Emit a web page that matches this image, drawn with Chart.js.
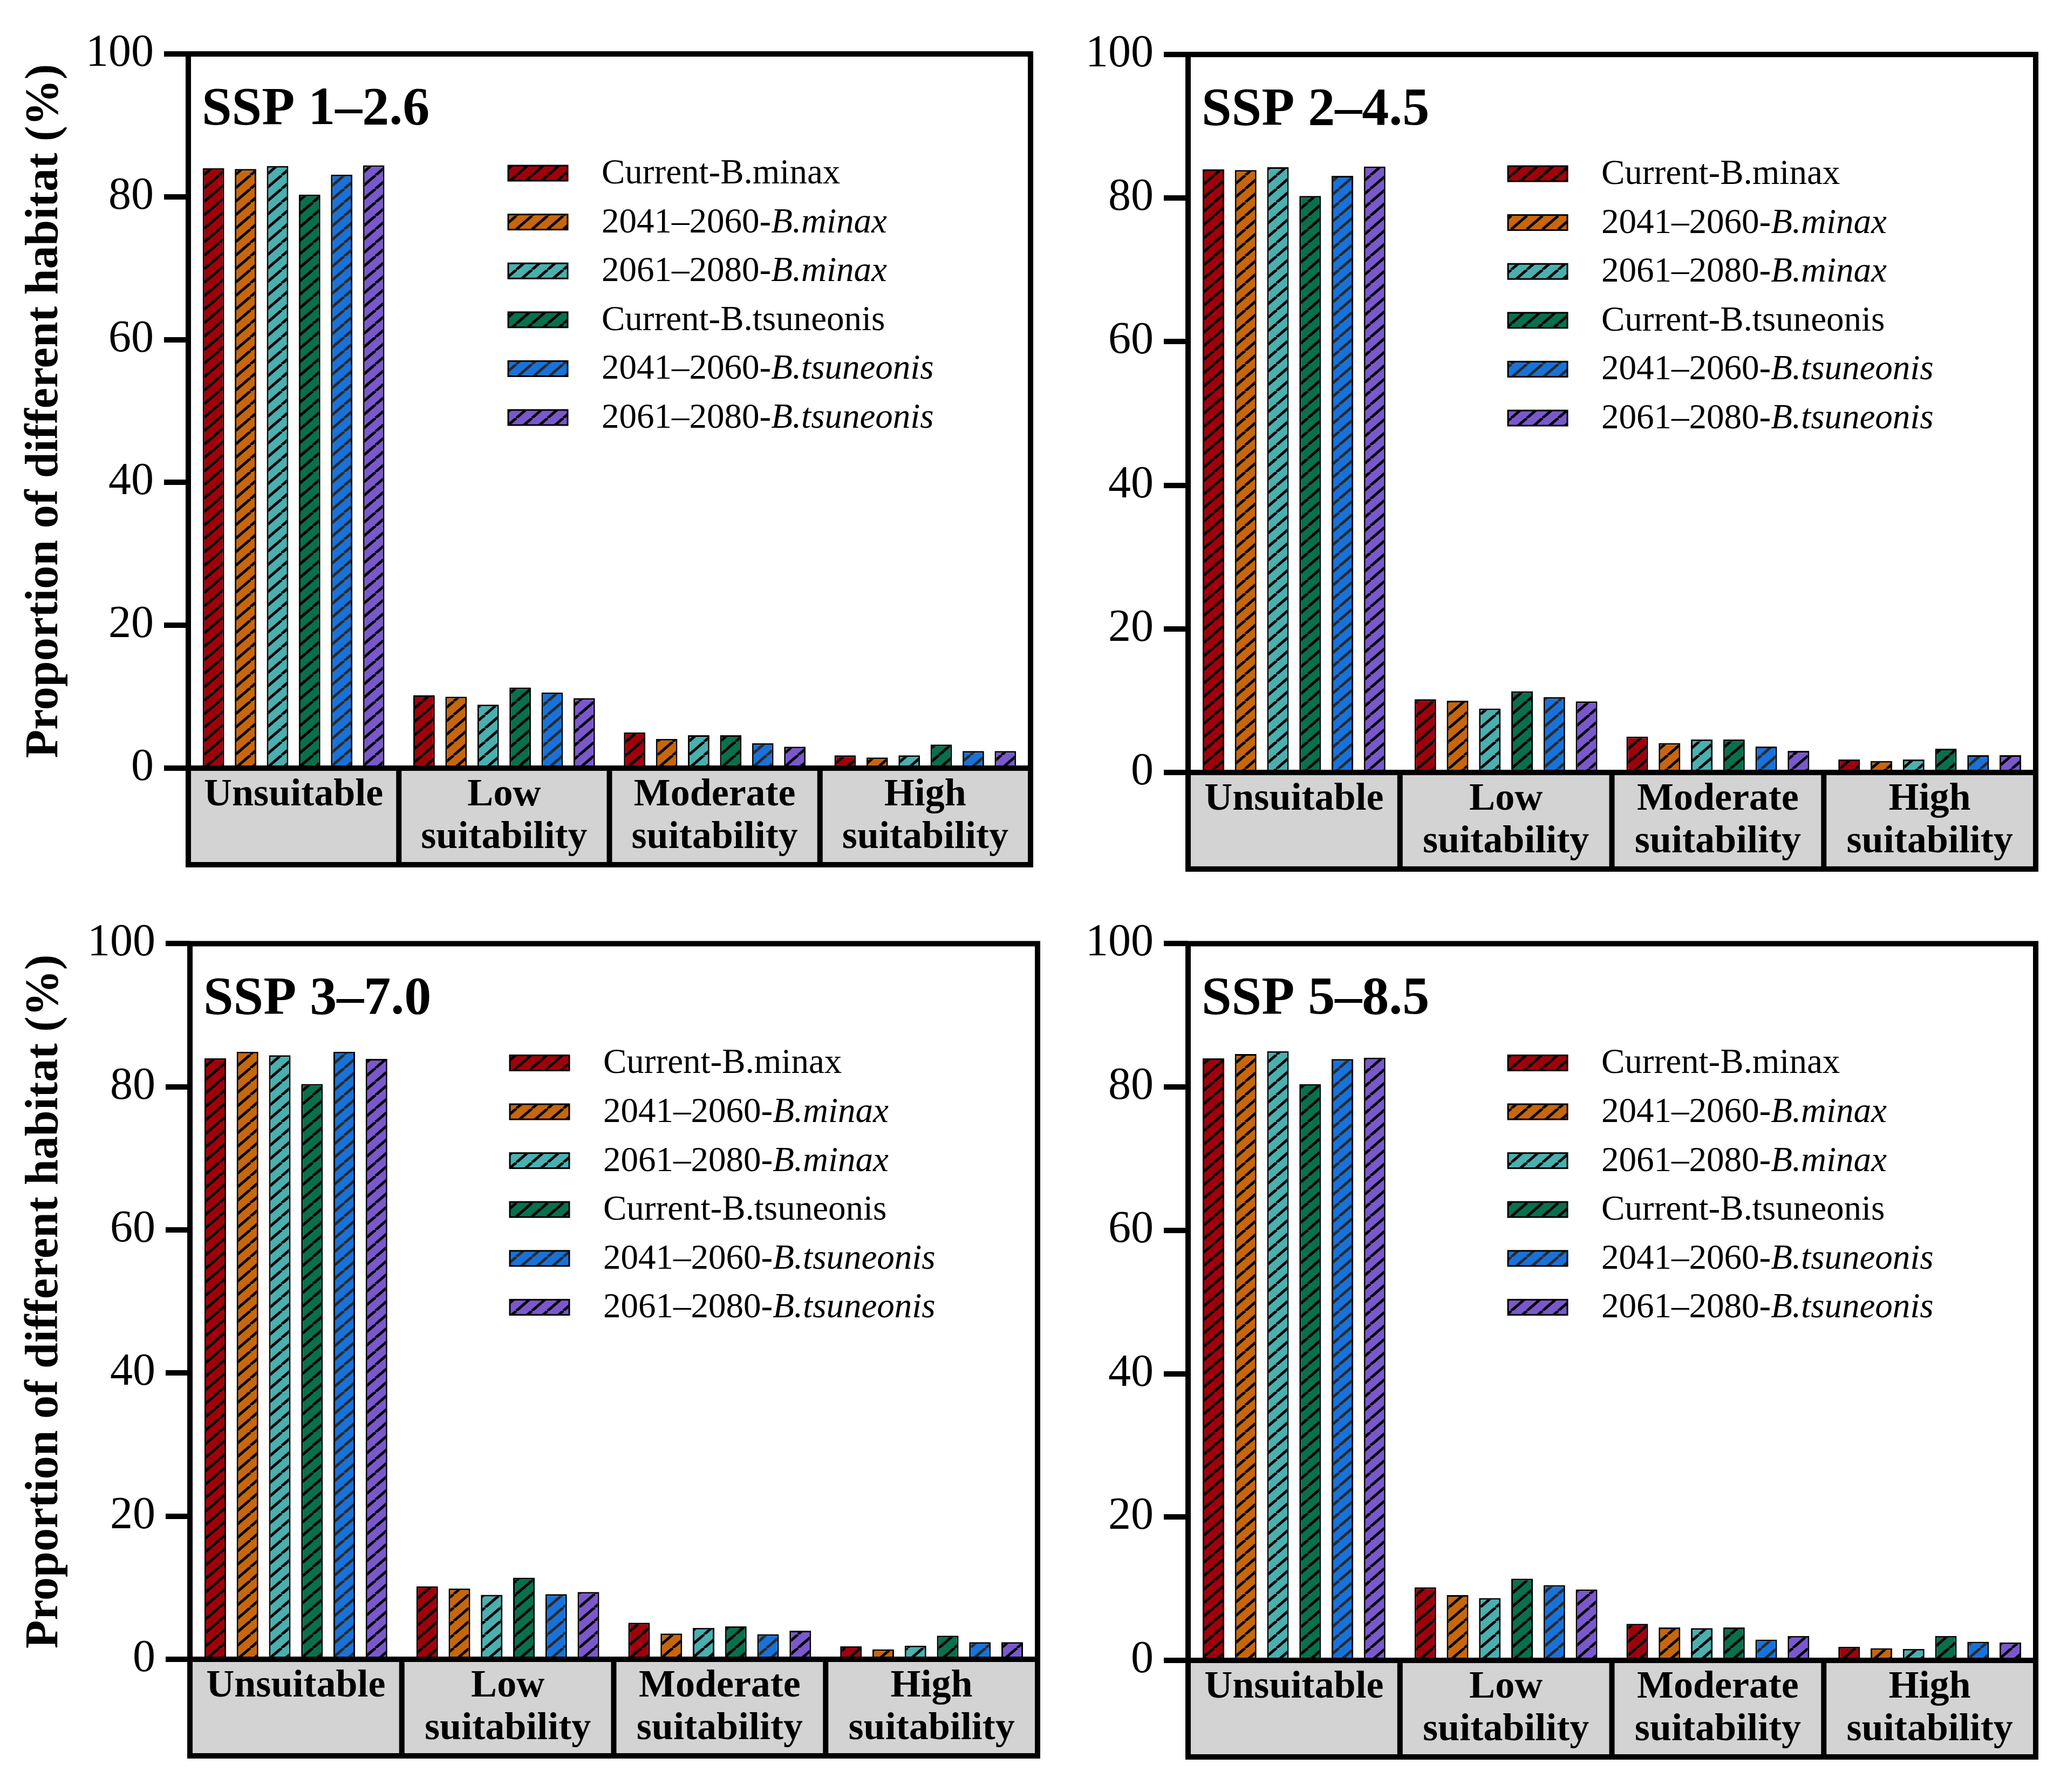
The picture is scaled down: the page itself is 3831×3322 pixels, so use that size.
<!DOCTYPE html>
<html><head><meta charset="utf-8">
<script src="https://cdn.jsdelivr.net/npm/chart.js@4.4.1/dist/chart.umd.min.js"></script>
<style>
html,body{margin:0;padding:0;background:#fff;}
#wrap{position:relative;width:3831px;height:3322px;background:#fff;overflow:hidden;}
canvas{position:absolute;}
</style>
</head><body>
<div id="wrap">
<canvas id="c1"></canvas><canvas id="c2"></canvas><canvas id="c3"></canvas><canvas id="c4"></canvas>
</div>
<script>
// ---------- DATA ----------
const categories = [['Unsuitable'], ['Low', 'suitability'], ['Moderate', 'suitability'], ['High', 'suitability']];
const seriesLabels = ['Current-B.minax', '2041–2060-B.minax', '2061–2080-B.minax',
                      'Current-B.tsuneonis', '2041–2060-B.tsuneonis', '2061–2080-B.tsuneonis'];
// legend label pieces: [text, italic]
const legendParts = [
  [['Current-B.minax', false]],
  [['2041–2060-', false], ['B.minax', true]],
  [['2061–2080-', false], ['B.minax', true]],
  [['Current-B.tsuneonis', false]],
  [['2041–2060-', false], ['B.tsuneonis', true]],
  [['2061–2080-', false], ['B.tsuneonis', true]]
];
const yTicks = [0, 20, 40, 60, 80, 100];
const panelTitles = ['SSP 1–2.6', 'SSP 2–4.5', 'SSP 3–7.0', 'SSP 5–8.5'];
const yAxisTitle = 'Proportion of different habitat (%)';

// values per series (rows) for the four categories (columns)
const ssp126 = [
  [84.0, 10.2, 5.0, 1.8],
  [83.9, 10.0, 4.1, 1.5],
  [84.3, 8.9, 4.6, 1.8],
  [80.3, 11.3, 4.6, 3.3],
  [83.1, 10.6, 3.5, 2.4],
  [84.4, 9.8, 3.0, 2.4]
];
const ssp245 = [
  [84.0, 10.2, 5.0, 1.8],
  [83.9, 10.0, 4.1, 1.6],
  [84.3, 8.9, 4.6, 1.8],
  [80.3, 11.3, 4.6, 3.3],
  [83.1, 10.5, 3.6, 2.4],
  [84.4, 9.9, 3.0, 2.4]
];
const ssp370 = [
  [84.0, 10.2, 5.1, 1.8],
  [84.9, 9.9, 3.6, 1.4],
  [84.4, 9.0, 4.4, 1.9],
  [80.4, 11.4, 4.6, 3.3],
  [84.9, 9.1, 3.5, 2.4],
  [83.9, 9.4, 4.0, 2.4]
];
const ssp585 = [
  [84.0, 10.2, 5.1, 1.9],
  [84.6, 9.1, 4.6, 1.7],
  [85.0, 8.7, 4.5, 1.6],
  [80.4, 11.4, 4.6, 3.4],
  [83.9, 10.5, 2.9, 2.6],
  [84.1, 9.9, 3.4, 2.5]
];

// ---------- STYLE ----------
const seriesColors = ['#A1000B', '#C8660B', '#4AAFAF', '#08704C', '#1872DA', '#7A58CC'];
const hatchColors  = ['#000000', '#000000', '#000000', '#000000', '#2a2a2a', '#000000'];
const FONT = 'Liberation Serif';

// ---------- LAYOUT ----------
const panels = [
  {id:'c1', x:0,    y:0,    w:1960, h:1680, yW:349, padTop:100, padRight:50, xH:256, yTitle:true,  values:ssp126, title:panelTitles[0]},
  {id:'c2', x:1960, y:0,    w:1871, h:1680, yW:242, padTop:101, padRight:58, xH:248, yTitle:false, values:ssp245, title:panelTitles[1]},
  {id:'c3', x:0,    y:1680, w:1960, h:1642, yW:352, padTop:63,  padRight:37, xH:246, yTitle:true,  values:ssp370, title:panelTitles[2]},
  {id:'c4', x:1960, y:1680, w:1871, h:1642, yW:242, padTop:64,  padRight:58, xH:244, yTitle:false, values:ssp585, title:panelTitles[3]}
];
const BOXH = 179;

function makePattern(ctx, color, lineColor) {
  const W = 29, H = 25;
  const c = document.createElement('canvas');
  c.width = W; c.height = H;
  const g = c.getContext('2d');
  g.fillStyle = color; g.fillRect(0, 0, W, H);
  g.strokeStyle = lineColor; g.lineWidth = 5;
  g.beginPath();
  for (const k of [-1, 0, 1]) { g.moveTo(k * W, H); g.lineTo(k * W + W, 0); }
  g.stroke();
  return ctx.createPattern(c, 'repeat');
}

function panelPlugin(p, patterns) {
  return {
    id: 'panelDeco',
    beforeDraw(chart) {
      const {ctx, chartArea: a} = chart;
      ctx.save();
      ctx.fillStyle = '#fff';
      ctx.fillRect(0, 0, chart.width, chart.height);
      ctx.fillStyle = '#D3D3D3';
      ctx.fillRect(a.left, a.bottom, a.right - a.left, BOXH);
      ctx.restore();
    },
    afterDraw(chart) {
      const {ctx, chartArea: a} = chart;
      const xs = chart.scales.x;
      ctx.save();
      ctx.strokeStyle = '#000';
      ctx.lineWidth = 10;
      ctx.strokeRect(a.left, a.top, a.right - a.left, a.bottom - a.top);
      ctx.strokeRect(a.left, a.bottom, a.right - a.left, BOXH);
      ctx.beginPath();
      for (let i = 1; i < categories.length; i++) {
        const xd = (xs.getPixelForValue(i - 1) + xs.getPixelForValue(i)) / 2;
        ctx.moveTo(xd, a.bottom); ctx.lineTo(xd, a.bottom + BOXH);
      }
      ctx.stroke();
      // panel title
      ctx.fillStyle = '#000';
      ctx.textBaseline = 'alphabetic';
      ctx.textAlign = 'left';
      ctx.font = 'bold 100px "' + FONT + '"';
      ctx.fillText(p.title, a.left + 25, a.top + 130);
      // legend
      ctx.textBaseline = 'middle';
      for (let i = 0; i < legendParts.length; i++) {
        const cy = a.top + 221 + i * 90.6;
        const sx = a.left + 593;
        ctx.fillStyle = patterns[i];
        ctx.fillRect(sx, cy - 14, 110, 28);
        ctx.lineWidth = 3;
        ctx.strokeStyle = '#000';
        ctx.strokeRect(sx, cy - 14, 110, 28);
        let tx = a.left + 766;
        ctx.fillStyle = '#000';
        for (const [t, it] of legendParts[i]) {
          ctx.font = (it ? 'italic ' : '') + '65px "' + FONT + '"';
          ctx.fillText(t, tx, cy + 2);
          tx += ctx.measureText(t).width;
        }
      }
      ctx.restore();
    }
  };
}

function makeChart(p) {
  const cv = document.getElementById(p.id);
  cv.width = p.w; cv.height = p.h;
  cv.style.left = p.x + 'px'; cv.style.top = p.y + 'px';
  cv.style.width = p.w + 'px'; cv.style.height = p.h + 'px';
  const ctx = cv.getContext('2d');
  const patterns = seriesColors.map((c, i) => makePattern(ctx, c, hatchColors[i]));
  return new Chart(ctx, {
    type: 'bar',
    data: {
      labels: categories,
      datasets: seriesLabels.map((lab, i) => ({
        label: lab,
        data: p.values[i],
        backgroundColor: patterns[i],
        borderColor: '#000',
        borderWidth: 3,
        borderSkipped: 'bottom',
        categoryPercentage: 0.913,
        barPercentage: 0.67
      }))
    },
    options: {
      responsive: false,
      animation: false,
      devicePixelRatio: 1,
      layout: {padding: {top: p.padTop, right: p.padRight, left: 0, bottom: 0}},
      plugins: {legend: {display: false}, tooltip: {enabled: false}, title: {display: false}},
      scales: {
        x: {
          type: 'category',
          offset: true,
          grid: {display: false, drawTicks: false, tickLength: 0},
          border: {display: false},
          ticks: {font: {family: FONT, size: 72, weight: 'bold', lineHeight: 1.1}, color: '#000',
                  padding: 11, maxRotation: 0, minRotation: 0, autoSkip: false},
          afterFit: (s) => { s.height = p.xH; }
        },
        y: {
          min: 0, max: 100,
          afterBuildTicks: (s) => { s.ticks = yTicks.map(v => ({value: v})); },
          grid: {drawOnChartArea: false, drawTicks: true, tickLength: 45, lineWidth: 10,
                 color: '#000', tickWidth: 10, tickColor: '#000'},
          border: {display: false},
          ticks: {font: {family: FONT, size: 84}, color: '#000', padding: 19},
          title: {display: p.yTitle, text: yAxisTitle, color: '#000',
                  font: {family: FONT, size: 86, weight: 'bold', lineHeight: 1},
                  padding: {top: 41, bottom: 0}},
          afterFit: (s) => { s.width = p.yW; }
        }
      }
    },
    plugins: [panelPlugin(p, patterns)]
  });
}

panels.forEach(makeChart);
</script>
</body></html>
